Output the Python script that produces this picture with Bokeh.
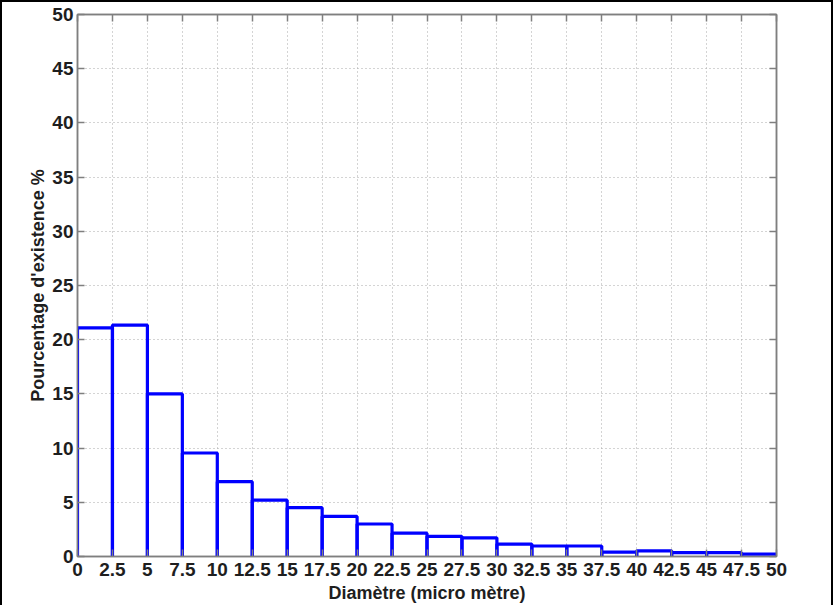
from bokeh.plotting import figure
from bokeh.models import FixedTicker, LinearAxis, Range1d
from bokeh.embed import file_html
from bokeh.resources import INLINE

# Histogram bin edges (micro metre) and percentages
bin_left = [0, 2.5, 5, 7.5, 10, 12.5, 15, 17.5, 20, 22.5,
            25, 27.5, 30, 32.5, 35, 37.5, 40, 42.5, 45, 47.5]
bin_right = [2.5, 5, 7.5, 10, 12.5, 15, 17.5, 20, 22.5, 25,
             27.5, 30, 32.5, 35, 37.5, 40, 42.5, 45, 47.5, 50]
percent = [21.1, 21.35, 15.0, 9.55, 6.9, 5.2, 4.5, 3.7, 3.0, 2.15,
           1.85, 1.72, 1.15, 0.97, 0.97, 0.4, 0.52, 0.35, 0.35, 0.22]

x_ticks = [0, 2.5, 5, 7.5, 10, 12.5, 15, 17.5, 20, 22.5, 25, 27.5, 30,
           32.5, 35, 37.5, 40, 42.5, 45, 47.5, 50]
x_tick_labels = ["0", "2.5", "5", "7.5", "10", "12.5", "15", "17.5", "20",
                 "22.5", "25", "27.5", "30", "32.5", "35", "37.5", "40",
                 "42.5", "45", "47.5", "50"]
y_ticks = [0, 5, 10, 15, 20, 25, 30, 35, 40, 45, 50]
y_tick_labels = ["0", "5", "10", "15", "20", "25", "30", "35", "40", "45", "50"]

x_label = "Diamètre (micro mètre)"
y_label = "Pourcentage d'existence %"

FONT = "Liberation Sans"
AXIS_COLOR = "#7f7f7f"
TEXT_COLOR = "#1e1e1e"

p = figure(width=833, height=605, output_backend="svg", toolbar_location=None,
           x_range=Range1d(0, 50), y_range=Range1d(0, 50),
           min_border_left=75, min_border_right=59, min_border_top=12,
           min_border_bottom=51,
           styles={"border-top": "2px solid black",
                   "border-left": "2px solid black",
                   "border-right": "2px solid black"})
p.background_fill_color = "white"
p.border_fill_color = "white"
p.outline_line_color = AXIS_COLOR
p.outline_line_width = 1.5

# bar outlines (left side, top, right side)
xs = [[l, l, r, r] for l, r in zip(bin_left, bin_right)]
ys = [[0, h, h, 0] for h in percent]
p.multi_line(xs, ys, line_color="#0000ff", line_width=3.2)

p.xaxis.ticker = FixedTicker(ticks=x_ticks)
p.yaxis.ticker = FixedTicker(ticks=y_ticks)
p.xaxis.major_label_overrides = {t: s for t, s in zip(x_ticks, x_tick_labels)}
p.yaxis.major_label_overrides = {t: s for t, s in zip(y_ticks, y_tick_labels)}

for ax in (p.xaxis[0], p.yaxis[0]):
    ax.axis_line_color = AXIS_COLOR
    ax.axis_line_width = 1.5
    ax.major_tick_line_color = AXIS_COLOR
    ax.major_tick_line_width = 1.5
    ax.major_tick_in = 7
    ax.major_tick_out = 0
    ax.minor_tick_line_color = None
    ax.major_label_text_font = FONT
    ax.major_label_text_font_style = "bold"
    ax.major_label_text_font_size = "19px"
    ax.major_label_text_color = TEXT_COLOR
    ax.axis_label_text_font = FONT
    ax.axis_label_text_font_style = "bold"
    ax.axis_label_text_font_size = "18px"
    ax.axis_label_text_color = TEXT_COLOR

p.xaxis.axis_label = x_label
p.yaxis.axis_label = y_label
p.xaxis.major_label_standoff = 6
p.yaxis.major_label_standoff = 4
p.xaxis.axis_label_standoff = 4
p.yaxis.axis_label_standoff = 1

# mirrored axes (ticks only) on top and right, MATLAB box style
for loc, tks in (("above", x_ticks), ("right", y_ticks)):
    ax = LinearAxis(ticker=FixedTicker(ticks=tks))
    ax.axis_line_color = AXIS_COLOR
    ax.axis_line_width = 1.5
    ax.major_tick_line_color = AXIS_COLOR
    ax.major_tick_line_width = 1.5
    ax.major_tick_in = 7
    ax.major_tick_out = 0
    ax.minor_tick_line_color = None
    ax.major_label_overrides = {t: "" for t in tks}
    ax.major_label_standoff = 0
    p.add_layout(ax, loc)

p.xgrid.ticker = FixedTicker(ticks=x_ticks)
p.ygrid.ticker = FixedTicker(ticks=y_ticks)
for g in (p.xgrid[0], p.ygrid[0]):
    g.grid_line_color = "#a8a8a8"
    g.grid_line_dash = "1 3"
    g.grid_line_width = 1

open("out.html", "w").write(file_html(p, INLINE))
